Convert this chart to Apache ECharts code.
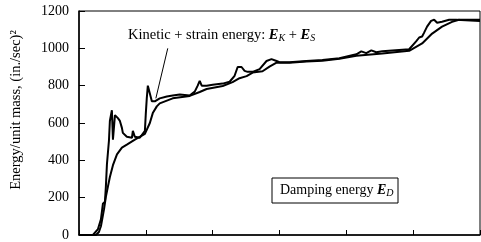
<!DOCTYPE html>
<html>
<head>
<meta charset="utf-8">
<script src="https://cdn.jsdelivr.net/npm/echarts@6/dist/echarts.min.js"></script>
<style>
  html, body { margin: 0; padding: 0; background: #fff; }
  #chart { width: 481px; height: 242px; }
</style>
</head>
<body>
<div id="chart"></div>
<script>
// time (sec) and energy per unit mass, (in./sec)^2
const timeKS = [0, 1.04, 1.42, 1.64, 1.79, 1.94, 2.01, 2.09, 2.24, 2.31, 2.46, 2.54, 2.69, 2.91, 3.06, 3.21, 3.28, 3.58, 3.96, 4.03, 4.18, 4.55, 4.93, 5.0, 5.07, 5.15, 5.3, 5.45, 5.67, 6.04, 6.57, 7.01, 7.54, 8.28, 8.66, 8.88, 9.03, 9.18, 9.55, 10.0, 10.75, 11.27, 11.64, 11.87, 12.16, 12.39, 12.61, 12.99, 13.51, 14.03, 14.4, 14.78, 15.0, 15.75, 17.01, 18.21, 19.48, 20.75, 21.12, 21.49, 21.87, 22.24, 22.69, 24.7, 25.22, 25.45, 25.67, 25.82, 26.04, 26.34, 26.57, 26.79, 27.16, 27.69, 28.21, 30]
const energyKS = [0, 0, 32, 84, 168, 179, 258, 379, 505, 611, 668, 511, 642, 626, 611, 574, 547, 526, 521, 558, 526, 521, 558, 653, 732, 800, 758, 716, 716, 732, 742, 747, 753, 747, 768, 800, 826, 800, 800, 805, 811, 821, 853, 900, 900, 879, 874, 874, 889, 932, 942, 932, 926, 926, 932, 937, 947, 968, 984, 974, 989, 979, 984, 995, 1037, 1058, 1063, 1084, 1116, 1147, 1153, 1137, 1142, 1153, 1153, 1147]

const timeD = [0, 1.27, 1.49, 1.64, 1.87, 2.01, 2.16, 2.31, 2.54, 2.84, 3.21, 3.58, 4.18, 4.93, 5.3, 5.52, 5.82, 6.04, 7.01, 8.28, 9.03, 9.55, 10.75, 11.49, 12.01, 12.54, 12.99, 13.73, 14.25, 14.78, 15.75, 17.01, 18.21, 19.48, 20.75, 22.69, 24.7, 25.67, 26.42, 27.16, 27.91, 28.43, 30]
const energyD = [0, 0, 16, 47, 137, 205, 258, 311, 374, 432, 468, 484, 511, 542, 600, 653, 689, 705, 732, 745, 766, 782, 798, 819, 840, 851, 870, 877, 902, 923, 923, 929, 934, 944, 960, 972, 987, 1026, 1079, 1116, 1142, 1153, 1153]

const yTicks = [0, 200, 400, 600, 800, 1000, 1200]

// annotation leader line (data coords)
const leaderFrom = [6.64, 1000]
const leaderTo = [5.75, 732]

const serif = '"Liberation Serif", "DejaVu Serif", serif'

function pairs(xs, ys) {
  return xs.map((x, i) => [x, ys[i]])
}

const richLabel = {
  n: { fontFamily: serif, fontSize: 14.5, fill: '#000' },
  e: { fontFamily: serif, fontSize: 14.5, fontStyle: 'italic', fontWeight: 'bold', fill: '#000' },
  s: { fontFamily: serif, fontSize: 10, fontStyle: 'italic', fill: '#000', padding: [6, 0, 0, 0] },
}

const chart = echarts.init(document.getElementById('chart'))

const option = {
  animation: false,
  backgroundColor: '#fff',
  textStyle: { fontFamily: serif, color: '#000' },
  grid: {
    left: 79,
    right: 1,
    top: 11,
    bottom: 3,
    show: true,
    borderColor: '#000',
    borderWidth: 1,
  },
  xAxis: {
    type: 'value',
    min: 0,
    max: 30,
    interval: 5,
    axisLine: { lineStyle: { color: '#000', width: 1.5 } },
    axisTick: { inside: true, length: 5, lineStyle: { color: '#000' } },
    axisLabel: { show: false },
    splitLine: { show: false },
  },
  yAxis: {
    type: 'value',
    min: yTicks[0],
    max: yTicks[yTicks.length - 1],
    interval: 200,
    axisLine: { show: true, lineStyle: { color: '#000', width: 1.5 } },
    axisTick: { show: true, inside: true, length: 6, lineStyle: { color: '#000' } },
    axisLabel: {
      color: '#000',
      fontSize: 14,
      fontFamily: serif,
      margin: 10,
      formatter: (v) => String(v),
    },
    splitLine: { show: false },
  },
  series: [
    {
      name: 'Kinetic + strain energy',
      type: 'line',
      data: pairs(timeKS, energyKS),
      showSymbol: false,
      lineStyle: { color: '#000', width: 2 },
      markLine: {
        silent: true,
        symbol: 'none',
        label: { show: false },
        lineStyle: { color: '#000', width: 1, type: 'solid' },
        data: [[{ coord: leaderFrom }, { coord: leaderTo }]],
      },
    },
    {
      name: 'Damping energy',
      type: 'line',
      data: pairs(timeD, energyD),
      showSymbol: false,
      lineStyle: { color: '#000', width: 2 },
    },
  ],
  graphic: [
    {
      type: 'text',
      x: 16,
      y: 110,
      rotation: Math.PI / 2,
      style: {
        text: 'Energy/unit mass, (in./sec)²',
        fontFamily: serif,
        fontSize: 14.5,
        fill: '#000',
        align: 'center',
        verticalAlign: 'middle',
      },
    },
    {
      type: 'text',
      x: 128,
      y: 27,
      style: {
        text: '{n|Kinetic + strain energy: }{e|E}{s|K}{n| + }{e|E}{s|S}',
        rich: richLabel,
      },
    },
    {
      type: 'rect',
      shape: { x: 272, y: 178, width: 126, height: 25 },
      style: { fill: '#fff', stroke: '#000', lineWidth: 1 },
    },
    {
      type: 'text',
      x: 280,
      y: 182,
      style: {
        text: '{n|Damping energy }{e|E}{s|D}',
        rich: {
          n: { fontFamily: serif, fontSize: 14, fill: '#000' },
          e: { fontFamily: serif, fontSize: 14, fontStyle: 'italic', fontWeight: 'bold', fill: '#000' },
          s: { fontFamily: serif, fontSize: 10, fontStyle: 'italic', fill: '#000', padding: [6, 0, 0, 0] },
        },
      },
    },
  ],
}

chart.setOption(option)
</script>
</body>
</html>
